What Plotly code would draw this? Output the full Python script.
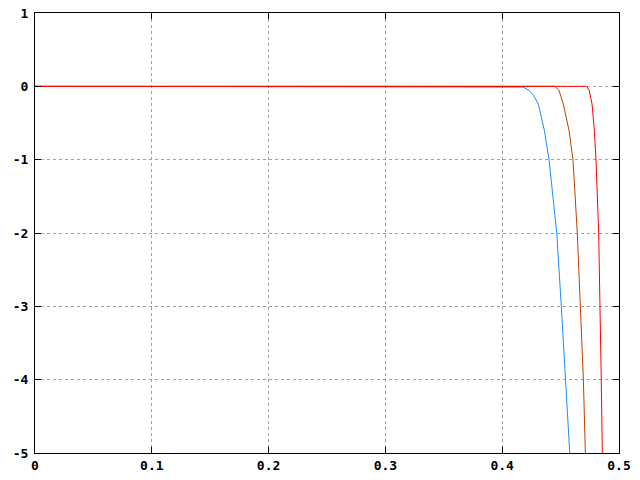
import plotly.graph_objects as go

# x positions (data units) and y values
blue_x = [0.0, 0.4135, 0.4178, 0.4229, 0.4270, 0.4309, 0.4361, 0.4401, 0.4467, 0.4506, 0.4538, 0.4575, 0.4600]
blue_y = [0.0, 0.0, -0.01, -0.055, -0.13, -0.24, -0.6, -1.0, -2.0, -3.0, -4.0, -5.0, -5.6]

orange_x = [0.0, 0.4452, 0.4486, 0.4523, 0.4572, 0.4606, 0.4643, 0.4672, 0.4695, 0.4712, 0.4725]
orange_y = [0.0, 0.0, -0.055, -0.24, -0.6, -1.0, -2.0, -3.0, -4.0, -5.0, -5.6]

red_x = [0.0, 0.4723, 0.4745, 0.4769, 0.4789, 0.4803, 0.4826, 0.4840, 0.4848, 0.4857, 0.4864]
red_y = [0.0, 0.0, -0.055, -0.24, -0.6, -1.0, -2.0, -3.0, -4.0, -5.0, -5.6]

x_ticks = [0, 0.1, 0.2, 0.3, 0.4, 0.5]
x_labels = ["0", "0.1", "0.2", "0.3", "0.4", "0.5"]
y_ticks = [1, 0, -1, -2, -3, -4, -5]
y_labels = ["1", "0", "-1", "-2", "-3", "-4", "-5"]

fig = go.Figure()
for xs, ys, c in [(blue_x, blue_y, "#1a8cff"), (orange_x, orange_y, "#c04000"), (red_x, red_y, "#ff0000")]:
    fig.add_trace(go.Scatter(x=xs, y=ys, mode="lines", line=dict(color=c, width=1), showlegend=False))

tickfont = dict(family="DejaVu Sans Mono", size=13, color="black", weight="bold")
common = dict(showline=True, linecolor="black", linewidth=1, mirror="ticks",
              ticks="inside", ticklen=6, tickcolor="black", tickwidth=1,
              showgrid=True, gridcolor="#a0a0a0", griddash="dot", gridwidth=1,
              zeroline=False, tickfont=tickfont, automargin=False)

fig.update_xaxes(range=[0, 0.5], tickvals=x_ticks, ticktext=x_labels, **common)
fig.update_yaxes(range=[-5, 1], tickvals=y_ticks, ticktext=y_labels, ticklabelstandoff=3, **common)

fig.update_layout(width=640, height=480, margin=dict(l=35, r=21, t=13, b=27),
                  plot_bgcolor="white", paper_bgcolor="white")

fig.write_html("out.html", config={"displayModeBar": False},
               post_script="document.body.style.margin='0';")
